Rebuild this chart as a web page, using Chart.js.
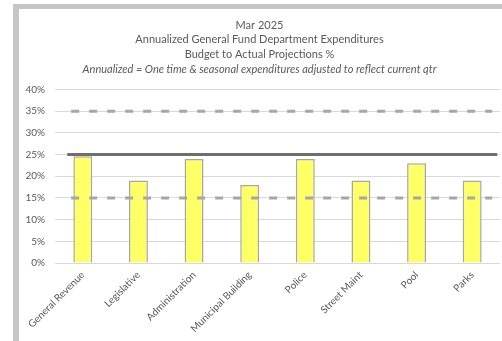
<!DOCTYPE html>
<html>
<head>
<meta charset="utf-8">
<script src="https://cdn.jsdelivr.net/npm/chart.js@4"></script>
<style>
  html, body { margin: 0; padding: 0; background: #fff; overflow: hidden; }
  #frame {
    position: absolute; left: 13px; top: 4px;
    width: 483px; height: 332px;
    border-top: 5px solid #c6c6c6; border-left: 6px solid #c6c6c6;
  }
  #chart { display: block; }
</style>
</head>
<body>
<div id="frame"><canvas id="chart" width="483" height="332"></canvas></div>
<script>
// departments and their budget-to-actual %
const departments = ['General Revenue', 'Legislative', 'Administration', 'Municipal Building',
                     'Police', 'Street Maint', 'Pool', 'Parks'];
const projections = [24.6, 19, 24, 18, 24, 19, 23, 19];

// reference lines (x in category units on a hidden 0..8 axis)
const targetLine = [{ x: 0.22, y: 25 }, { x: 7.95, y: 25 }];
const upperLine = [{ x: 0.29, y: 35 }, { x: 7.86, y: 35 }];
const lowerLine = [{ x: 0.29, y: 15 }, { x: 7.86, y: 15 }];

const yTicks = [0, 5, 10, 15, 20, 25, 30, 35, 40];

const titleLines = ['Mar 2025', 'Annualized General Fund Department Expenditures', 'Budget to Actual Projections %'];
const subtitleLine = 'Annualized = One time & seasonal expenditures adjusted to reflect current qtr';

const txt = '#595959';
const fam = 'Lato, "Open Sans", sans-serif';

new Chart(document.getElementById('chart'), {
    type: 'bar',
    data: {
        labels: departments,
        datasets: [
            {
                data: projections,
                backgroundColor: '#ffff66',
                borderColor: '#a6a6a6',
                borderWidth: 1.5,
                barPercentage: 0.34,
                categoryPercentage: 1,
                grouped: false,
                order: 1
            },
            {
                type: 'line', data: targetLine, xAxisID: 'x2',
                borderColor: '#6e6e6e', borderWidth: 3, pointRadius: 0, order: 0
            },
            {
                type: 'line', data: upperLine, xAxisID: 'x2',
                borderColor: '#a6a6a6', borderWidth: 3, borderDash: [8, 10], pointRadius: 0, order: 0
            },
            {
                type: 'line', data: lowerLine, xAxisID: 'x2',
                borderColor: '#a6a6a6', borderWidth: 3, borderDash: [8, 10], pointRadius: 0, order: 0
            }
        ]
    },
    options: {
        responsive: false,
        animation: false,
        layout: { padding: { left: 0, right: 2, top: 8, bottom: 0 } },
        plugins: {
            legend: { display: false },
            tooltip: { enabled: false },
            title: {
                display: true, text: titleLines, color: txt,
                font: { family: fam, size: 11, weight: 'normal', lineHeight: 1.33 },
                padding: { top: 1, bottom: 0 }
            },
            subtitle: {
                display: true, text: subtitleLine, color: txt,
                font: { family: fam, size: 11, style: 'italic', lineHeight: 1.33 },
                padding: { top: 0, bottom: 13 }
            }
        },
        scales: {
            x: {
                grid: { display: false, drawTicks: false },
                border: { display: false },
                ticks: { color: txt, font: { family: fam, size: 10 }, minRotation: 45, maxRotation: 45, padding: 6 },
                afterFit: s => { s.height = 78; }
            },
            x2: {
                type: 'linear', display: false, min: 0, max: 8, offset: false
            },
            y: {
                min: 0, max: 40,
                afterBuildTicks: s => { s.ticks = yTicks.map(v => ({ value: v })); },
                grid: { color: '#d9d9d9', lineWidth: 1, drawTicks: false },
                border: { display: false },
                ticks: { color: txt, font: { family: fam, size: 10 }, padding: 10, callback: v => v + '%' },
                afterFit: s => { s.width = 36; }
            }
        }
    }
});
</script>
</body>
</html>
